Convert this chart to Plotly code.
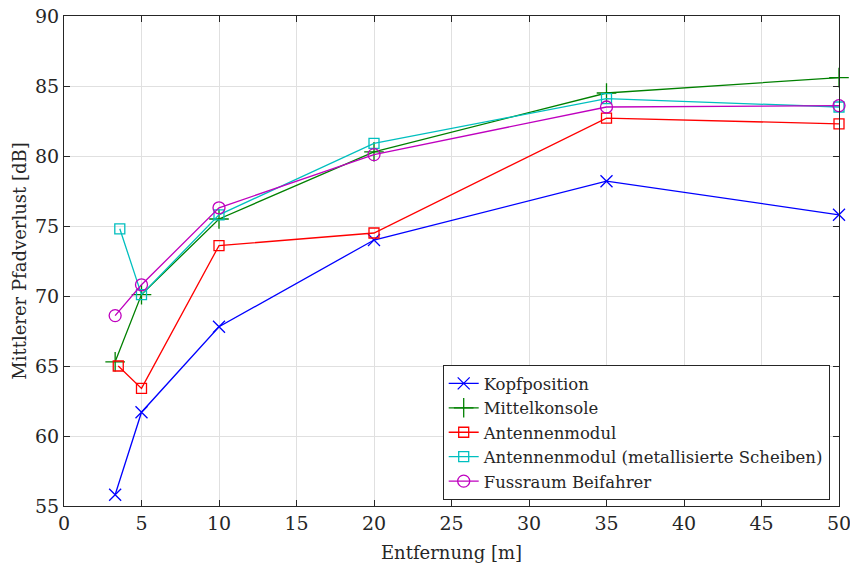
import plotly.graph_objects as go

x_kopf = [3.3, 5, 10, 20, 35, 50]
y_kopf = [55.8, 61.7, 67.8, 74.0, 78.2, 75.8]
x_mittel = [3.3, 5, 10, 20, 35, 50]
y_mittel = [65.3, 70.1, 75.5, 80.3, 84.5, 85.6]
x_ant = [3.5, 5, 10, 20, 35, 50]
y_ant = [65.0, 63.4, 73.6, 74.5, 82.7, 82.3]
x_antm = [3.6, 5, 10, 20, 35, 50]
y_antm = [74.8, 70.1, 75.8, 80.9, 84.1, 83.5]
x_fuss = [3.3, 5, 10, 20, 35, 50]
y_fuss = [68.6, 70.8, 76.3, 80.1, 83.5, 83.6]

names = ["Kopfposition", "Mittelkonsole", "Antennenmodul",
         "Antennenmodul (metallisierte Scheiben)", "Fussraum Beifahrer"]
colors = ["#0000ff", "#008000", "#ff0000", "#00bfbf", "#bf00bf"]
symbols = ["x-thin-open", "cross-thin-open", "square-open", "square-open", "circle-open"]
sizes = [12, 14, 10, 10, 12]
xs = [x_kopf, x_mittel, x_ant, x_antm, x_fuss]
ys = [y_kopf, y_mittel, y_ant, y_antm, y_fuss]

FONT = "DejaVu Serif"
TXT = "#262626"
fig = go.Figure()
for n, c, s, sz, x, y in zip(names, colors, symbols, sizes, xs, ys):
    fig.add_trace(go.Scatter(
        x=x, y=y, mode="lines+markers", name=n,
        line=dict(color=c, width=1.3),
        marker=dict(symbol=s, size=sz, color=c, line=dict(color=c, width=1.3)),
        cliponaxis=False,
    ))

axis_common = dict(
    showline=True, linecolor=TXT, linewidth=1, mirror="allticks",
    ticks="inside", ticklen=6, tickcolor=TXT,
    showgrid=True, gridcolor="#e0e0e0", gridwidth=1, zeroline=False,
    tickfont=dict(family=FONT, size=19, color=TXT),
    automargin=False, ticklabeloverflow="allow",
)
fig.update_xaxes(range=[0, 50], dtick=5,
                 title=dict(text="Entfernung [m]", font=dict(family=FONT, size=18, color=TXT), standoff=13),
                 **axis_common)
fig.update_yaxes(range=[55, 90], dtick=5,
                 title=dict(text="Mittlerer Pfadverlust [dB]", font=dict(family=FONT, size=18, color=TXT), standoff=3),
                 **axis_common)

fig.update_layout(
    width=850, height=570,
    margin=dict(l=64, r=11, t=16, b=64, autoexpand=False),
    paper_bgcolor="white", plot_bgcolor="white",
    legend=dict(x=0.988, y=0.012, xanchor="right", yanchor="bottom",
                bgcolor="white", bordercolor=TXT, borderwidth=1,
                font=dict(family=FONT, size=16.5, color=TXT),
                tracegroupgap=0, itemwidth=30),
    showlegend=True,
)
fig.write_html("out.html", config={"displayModeBar": False},
               post_script="document.body.style.margin='0';document.body.style.overflow='hidden';")
